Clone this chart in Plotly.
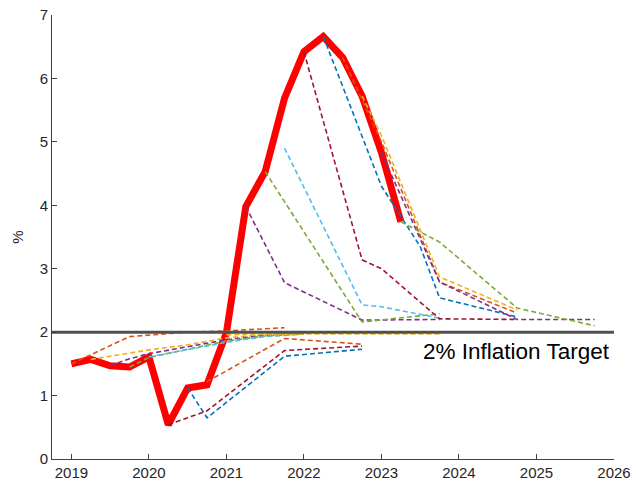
import plotly.graph_objects as go

# Actual CPI inflation, quarterly (year fraction, %)
actual_dates = [2019.0, 2019.25, 2019.5, 2019.75, 2020.0, 2020.25, 2020.5, 2020.75,
                2021.0, 2021.25, 2021.5, 2021.75, 2022.0, 2022.25, 2022.5, 2022.75,
                2023.0, 2023.25]
actual_values = [1.50, 1.57, 1.47, 1.45, 1.61, 0.54, 1.12, 1.17,
                 1.99, 3.98, 4.53, 5.69, 6.42, 6.66, 6.33, 5.72,
                 4.83, 3.74]

# Successive forecast vintages: dates and projected values
forecast_dates = [
    [2019.0, 2019.75, 2020.5, 2021.0, 2021.75],
    [2019.25, 2020.0, 2020.5, 2021.0, 2021.5, 2022.0],
    [2019.5, 2019.75, 2020.0, 2020.5, 2021.0, 2021.5, 2022.0],
    [2019.75, 2020.0, 2020.5, 2021.0, 2021.5, 2022.0],
    [2020.0, 2020.5, 2021.0, 2021.5, 2022.0],
    [2020.25, 2020.75, 2021.75, 2022.75],
    [2020.5, 2020.75, 2021.75, 2022.75],
    [2020.75, 2021.75, 2022.75],
    [2021.0, 2022.0, 2023.75],
    [2021.25, 2021.75, 2022.75, 2023.75],
    [2021.5, 2022.75, 2023.75],
    [2021.75, 2022.75, 2023.0, 2023.75],
    [2022.0, 2022.75, 2023.0, 2023.75, 2024.75],
    [2022.25, 2023.0, 2023.5, 2023.75, 2024.75],
    [2022.5, 2023.0, 2023.75, 2024.75],
    [2022.75, 2023.0, 2023.75, 2024.75],
    [2023.0, 2023.75, 2024.75, 2025.75],
    [2023.25, 2023.75, 2024.75, 2025.75],
]
forecast_values = [
    [1.50, 1.93, 2.00, 2.02, 2.07],
    [1.57, 1.72, 1.80, 1.91, 1.96, 1.98],
    [1.47, 1.58, 1.66, 1.77, 1.88, 1.95, 1.98],
    [1.45, 1.60, 1.73, 1.86, 1.94, 1.97],
    [1.61, 1.72, 1.84, 1.93, 1.97],
    [0.54, 0.76, 1.71, 1.78],
    [1.12, 0.65, 1.62, 1.73],
    [1.22, 1.90, 1.81],
    [1.96, 1.97, 1.97],
    [3.98, 2.78, 2.19, 2.20],
    [4.53, 2.16, 2.29],
    [4.90, 2.43, 2.40, 2.22],
    [6.42, 3.14, 3.00, 2.21, 2.20],
    [6.66, 4.30, 3.35, 2.54, 2.24],
    [6.33, 5.00, 2.79, 2.30],
    [5.72, 5.10, 2.87, 2.35],
    [4.83, 2.79, 2.20, 2.20],
    [3.74, 3.42, 2.38, 2.10],
]

target = 2.0
x_ticks = [2019, 2020, 2021, 2022, 2023, 2024, 2025, 2026]
y_ticks = [0, 1, 2, 3, 4, 5, 6, 7]

palette = ["#0072BD", "#D95319", "#EDB120", "#7E2F8E", "#77AC30", "#4DBEEE", "#A2142F"]

fig = go.Figure()

fig.add_trace(go.Scatter(x=actual_dates, y=actual_values, mode="lines",
                         line=dict(color="#FF0000", width=7),
                         showlegend=False, hoverinfo="skip"))

for i, (xs, ys) in enumerate(zip(forecast_dates, forecast_values)):
    fig.add_trace(go.Scatter(x=xs, y=ys, mode="lines",
                             line=dict(color=palette[(i + 1) % len(palette)], width=1.6,
                                       dash="5px,3px"),
                             showlegend=False, hoverinfo="skip"))

fig.add_trace(go.Scatter(x=[2018.75, 2026], y=[target, target], mode="lines",
                         line=dict(color="#505050", width=3),
                         showlegend=False, hoverinfo="skip"))

fig.add_annotation(x=2025.97, y=1.7, xref="x", yref="y", text="2% Inflation Target",
                   showarrow=False, xanchor="right", yanchor="middle",
                   font=dict(size=22.5, color="#000000", family="Liberation Sans"))

axis_style = dict(showline=True, linecolor="#404040", linewidth=1, ticks="inside",
                  ticklen=5, tickcolor="#404040", showgrid=False, zeroline=False,
                  automargin=False,
                  tickfont=dict(size=15, color="#262626", family="Liberation Sans"))

fig.update_xaxes(range=[2018.75, 2026], tickvals=x_ticks,
                 ticktext=[str(t) for t in x_ticks], **axis_style)
fig.update_yaxes(range=[0, 7], tickvals=y_ticks,
                 ticktext=[str(t) for t in y_ticks],
                 title=dict(text="%", standoff=12,
                            font=dict(size=15, color="#262626", family="Liberation Sans")),
                 **axis_style)

fig.update_layout(width=636, height=491, margin=dict(l=52, r=22, t=15, b=32),
                  plot_bgcolor="white", paper_bgcolor="white")

fig.write_html("out.html")
